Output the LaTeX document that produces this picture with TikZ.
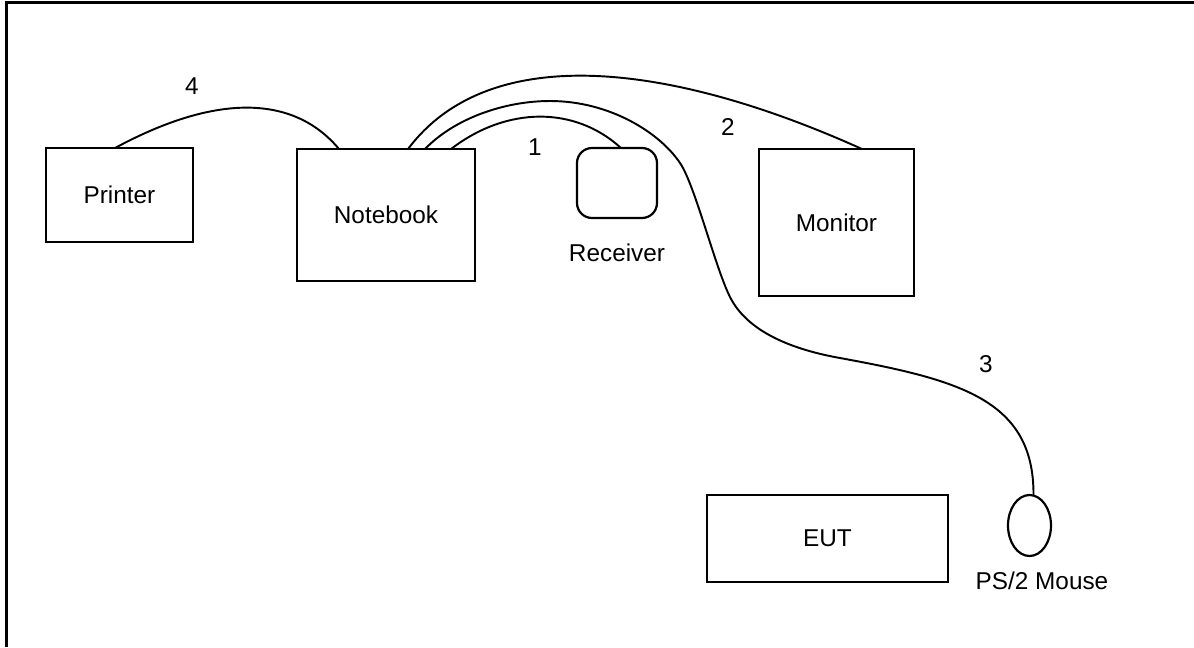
\documentclass[tikz,border=0pt]{standalone}
\usepackage{fontspec}
\setmainfont{Liberation Sans}
\usetikzlibrary{shapes.geometric,calc}
\newcommand\diafont{\fontsize{13.85}{16}\selectfont}
\begin{document}
\begin{tikzpicture}[x=0.02cm,y=-0.02cm,
  box/.style={draw,line width=1.25pt,rectangle,inner sep=0pt,outer sep=0pt,font=\diafont},
  txt/.style={inner sep=0pt,font=\diafont},
  cable/.style={line width=1.1pt}]
\useasboundingbox (0,0) rectangle (1194,647);
\draw[line width=1.4pt] (6.5,647) -- (6.5,2.5) -- (1194,2.5);

\node[box, minimum width=2.94cm, minimum height=1.88cm] (printer) at (119.5,195) {Printer};
\node[box, minimum width=3.56cm, minimum height=2.64cm] (nb) at (386,215) {Notebook};
\node[box, rounded corners=0.3cm, minimum width=1.6cm, minimum height=1.4cm] (rx) at (617,183) {};
\node[txt] (rxl) at (617,253) {Receiver};
\node[box, minimum width=3.1cm, minimum height=2.94cm] (mon) at (836.5,222.5) {Monitor};
\node[box, minimum width=4.82cm, minimum height=1.74cm] (eut) at (827.5,538.5) {EUT};
\node[draw, ellipse, line width=1.25pt, minimum width=0.86cm, minimum height=1.22cm, inner sep=0pt, outer sep=0pt] (mouse) at (1029.5,525.5) {};
\node[txt] (ml) at (1042,581) {PS/2 Mouse};

\node[txt] (l4) at (192,86) {4};
\node[txt] (l1) at (535,147) {1};
\node[txt] (l2) at (728,127) {2};
\node[txt] (l3) at (986,364) {3};

% cable 4
\draw[cable] ($(printer.north west)+(69,0)$) .. controls (215,94) and (293,94) .. ($(nb.north west)+(42,0)$);
% cable 1
\draw[cable] ($(nb.north west)+(154,0)$) .. controls (507,106) and (575,106) .. ($(rx.north)+(4,0)$);
% cable 2
\draw[cable] ($(nb.north west)+(111,0)$) .. controls (489,41) and (669,62) .. ($(mon.north west)+(103,0)$);
% cable 3
\coordinate (c3a) at ($(nb.north west)+(128,0)$);
\coordinate (c3b) at ($(mouse.north)+(4,0)$);
\draw[cable] (c3a) .. controls (455,118) and (505,101) .. (550,101)
  .. controls (610,101) and (660,133) .. (680,163)
  .. controls (695,185) and (715,267) .. (730,297)
  .. controls (748,333) and (795,350) .. (840,358)
  .. controls (960,380) and (1034,400) .. (c3b);
\end{tikzpicture}
\end{document}
